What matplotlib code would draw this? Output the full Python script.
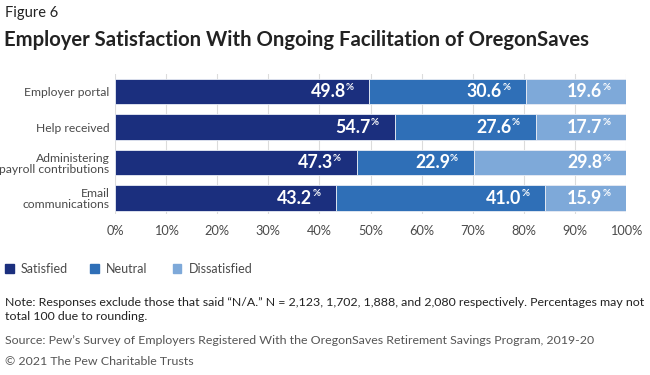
import numpy as np
import matplotlib.pyplot as plt

# data
categories = ['Employer portal', 'Help received', 'Administering\npayroll contributions', 'Email\ncommunications']
satisfied = [49.8, 54.7, 47.3, 43.2]
neutral = [30.6, 27.6, 22.9, 41.0]
dissatisfied = [19.6, 17.7, 29.8, 15.9]
series_names = ['Satisfied', 'Neutral', 'Dissatisfied']
colors = ['#1b2f7e', '#2f6fb7', '#7ea9d9']

plt.rcParams['font.family'] = ['Lato', 'DejaVu Sans']

fig = plt.figure(figsize=(6.5, 3.75), dpi=100)
ax = fig.add_axes([0.177, 0.429, 0.786, 0.374])

y = np.arange(len(categories))
series = [satisfied, neutral, dissatisfied]
left = np.zeros(len(categories))
for vals, c in zip(series, colors):
    vals = np.array(vals)
    ax.barh(y, vals, left=left, height=0.72, color=c, edgecolor='#e8ecf4', linewidth=0.6, zorder=3)
    for yi, l, v in zip(y, left, vals):
        end = min(l + v, 100)
        ax.annotate(f'{v:.1f}', xy=(end, yi), xytext=(-17, 0), textcoords='offset points',
                    ha='right', va='center', color='white', fontsize=12.8, fontweight='bold',
                    zorder=4, annotation_clip=False)
        ax.annotate('%', xy=(end, yi), xytext=(-17, 3), textcoords='offset points',
                    ha='left', va='center', color='white', fontsize=7, fontweight='bold',
                    zorder=4, annotation_clip=False)
    left = left + vals

ax.set_xlim(0, 100)
ax.set_ylim(3.45, -0.5)
ax.set_xticks(np.arange(0, 101, 10))
ax.set_xticklabels([f'{t}%' for t in range(0, 101, 10)])
ax.set_yticks(y)
ax.set_yticklabels(categories, linespacing=1.0)
ax.tick_params(axis='both', length=0, labelsize=9.2, labelcolor='#4a4a4a')
ax.tick_params(axis='y', labelsize=8.7, pad=4)
ax.tick_params(axis='x', pad=8)
ax.grid(axis='x', color='#dcdcdc', linewidth=0.8, zorder=0)
for s in ax.spines.values():
    s.set_visible(False)

# titles
fig.text(0.008, 0.965, 'Figure 6', fontsize=10.5, color='#222222', va='center')
fig.text(0.006, 0.893, 'Employer Satisfaction With Ongoing Facilitation of OregonSaves',
         fontsize=14.6, fontweight='bold', color='#222222', va='center')

# legend
lx = [0.008, 0.139, 0.266]
for x0, name, c in zip(lx, series_names, colors):
    fig.patches.append(plt.Rectangle((x0, 0.272), 0.013, 0.0227, transform=fig.transFigure,
                                     color=c, figure=fig))
    fig.text(x0 + 0.024, 0.283, name, fontsize=9, color='#4a4a4a', va='center')

fig.text(0.008, 0.175, 'Note: Responses exclude those that said \u201cN/A.\u201d N = 2,123, 1,702, 1,888, and 2,080 '
         'respectively. Percentages may not\ntotal 100 due to rounding.',
         fontsize=8.9, color='#222222', va='center', linespacing=1.4)
fig.text(0.008, 0.091, 'Source: Pew\u2019s Survey of Employers Registered With the OregonSaves Retirement Savings Program, 2019-20',
         fontsize=8.9, color='#555555', va='center')
fig.text(0.008, 0.035, '\u00a9 2021 The Pew Charitable Trusts', fontsize=8.9, color='#555555', va='center')

fig.savefig('out.png', dpi=100)
